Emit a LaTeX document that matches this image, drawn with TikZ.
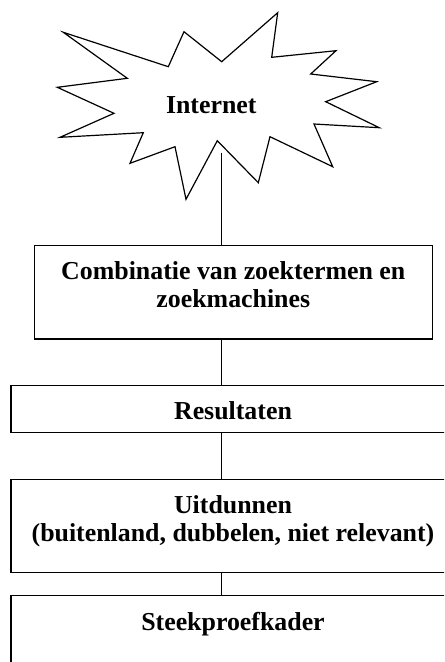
\documentclass[tikz,border=0pt]{standalone}
\usepackage{fontspec}
\setmainfont{Liberation Serif}

\tikzset{
  kader/.style={draw, line width=0.9pt, inner sep=0pt},
  tekst/.style={anchor=north, inner xsep=0pt, inner ysep=12.5pt, align=center,
    font=\fontsize{19.4}{21}\selectfont\bfseries},
  lijn/.style={line width=0.9pt}
}

\begin{document}
\begin{tikzpicture}[x=0.75pt, y=-0.75pt]
    % --- Rand ---
    \useasboundingbox (0,0) rectangle (444,662);
    \clip (0,0) rectangle (444,662);
    \fill[white] (0,0) rectangle (444,662);

    % --- Ster (Internet) ---
    \draw[lijn, line join=miter] (63.3,32.3) -- (168.3,66.7) -- (184,31.7) -- (221.7,61.7)
        -- (277.7,12.7) -- (271.7,57.3) -- (336,50.7) -- (310.7,74) -- (376.7,81.7)
        -- (325.7,101.7) -- (379.3,127.7) -- (314,124) -- (332.7,166.7) -- (270,136.7)
        -- (258.3,182.7) -- (217.3,140.7) -- (186,199.3) -- (175,146.7) -- (130,163.3)
        -- (143.3,132.7) -- (60,137.3) -- (114,113.3) -- (57.3,87.3) -- (127.3,78.3) -- cycle;
    \node[anchor=base, inner sep=0pt, font=\fontsize{19.4}{21}\selectfont\bfseries] (internet)
        at (211.3,113.3) {Internet};
    \coordinate (voet) at (221.7,152.7);

    % --- Kaders ---
    \node[kader, minimum width=298.5pt, minimum height=70pt] (combi) at (233.3,292.3) {};
    \node[tekst] (combitekst) at (combi.north) {Combinatie van zoektermen en\\zoekmachines};

    \node[kader, minimum width=333pt, minimum height=35.25pt] (resultaten) at (233,409.2) {};
    \node[tekst] (resultatentekst) at (resultaten.north) {Resultaten};

    \node[kader, minimum width=333pt, minimum height=69.75pt] (uitdunnen) at (233,525.8) {};
    \node[tekst] (uitdunnentekst) at (uitdunnen.north) {Uitdunnen\\(buitenland, dubbelen, niet relevant)};

    \node[kader, minimum width=333pt, minimum height=78pt] (kader) at (233,647.7) {};
    \node[tekst] (kadertekst) at (kader.north) {Steekproefkader};

    % --- Verbindingen ---
    \draw[lijn] (voet) -- (voet |- combi.north);
    \draw[lijn] (voet |- combi.south) -- (voet |- resultaten.north);
    \draw[lijn] (voet |- resultaten.south) -- (voet |- uitdunnen.north);
    \draw[lijn] (voet |- uitdunnen.south) -- (voet |- kader.north);
\end{tikzpicture}
\end{document}
